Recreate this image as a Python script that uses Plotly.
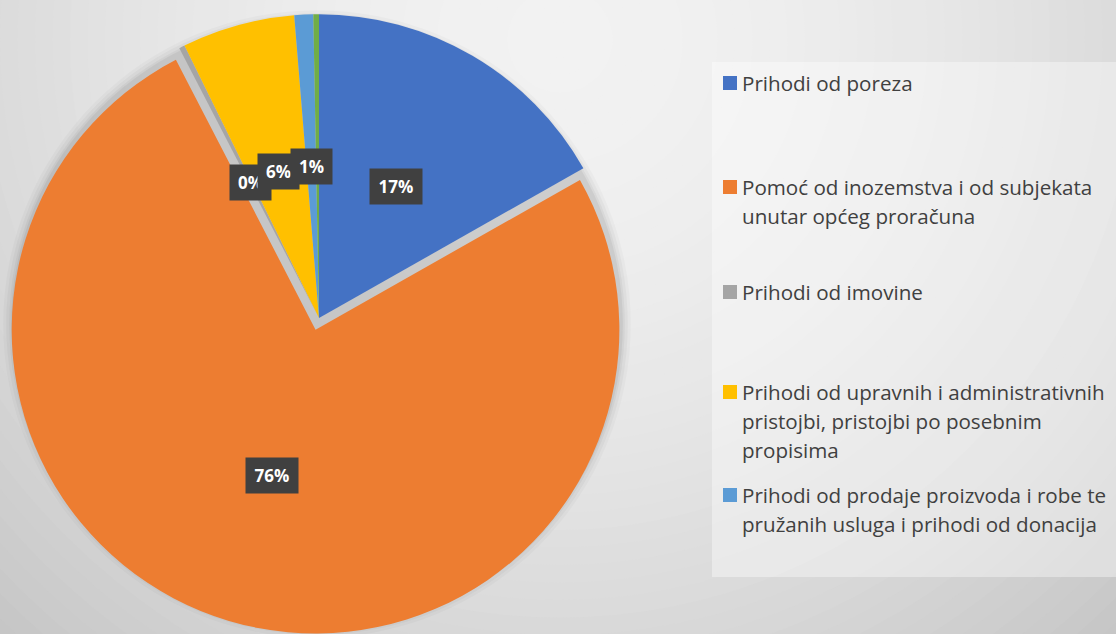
import math
import plotly.graph_objects as go

# ---------------- data ----------------
labels = [
    "Prihodi od poreza",
    "Pomoć od inozemstva i od subjekata unutar općeg proračuna",
    "Prihodi od imovine",
    "Prihodi od upravnih i administrativnih pristojbi, pristojbi po posebnim propisima",
    "Prihodi od prodaje proizvoda i robe te pružanih usluga i prihodi od donacija",
    "Ostali prihodi",
]
values = [16.8, 75.6, 0.3, 6.0, 1.0, 0.3]
colors = ["#4472C4", "#ED7D31", "#A5A5A5", "#FFC000", "#5B9BD5", "#70AD47"]
pulls = [0, 0.04, 0, 0, 0, 0]
show_label = [True, True, True, True, True, False]
legend_lines = [
    ["Prihodi od poreza"],
    ["Pomoć od inozemstva i od subjekata", "unutar općeg proračuna"],
    ["Prihodi od imovine"],
    ["Prihodi od upravnih i administrativnih", "pristojbi, pristojbi po posebnim", "propisima"],
    ["Prihodi od prodaje proizvoda i robe te", "pružanih usluga i prihodi od donacija"],
]

# ---------------- layout ----------------
W, H = 1116, 634
cx, cy = 319, 318              # pie centre in pixels (from top-left)
half = 316                     # half size of pie domain in pixels
maxpull = max(pulls)
R = half / (1 + maxpull)

dom_x = [(cx - half) / W, (cx + half) / W]
dom_y = [max(0, 1 - (cy + half) / H), 1 - (cy - half) / H]

fig = go.Figure()
fig.add_trace(go.Pie(
    labels=labels, values=values, sort=False, direction="clockwise", rotation=0,
    pull=pulls, marker=dict(colors=colors, line=dict(width=0)),
    textinfo="none", hoverinfo="label+percent", showlegend=False,
    domain=dict(x=dom_x, y=dom_y),
))

shapes = []
# radial background gradient
gx, gy = 560, 40
N = 48
rmax = 840
for i in range(N, 0, -1):
    r = rmax * i / N
    t = min(r / 820, 1.0)
    c = int(round(242 - 44 * t ** 1.8))
    shapes.append(dict(type="circle", xref="paper", yref="paper",
                       x0=(gx - r) / W, x1=(gx + r) / W,
                       y0=1 - (gy + r) / H, y1=1 - (gy - r) / H,
                       fillcolor=f"rgb({c},{c},{c})", line=dict(width=0), layer="below"))
# soft pie shadow
for k, a in [(10, 0.025), (7, 0.03), (4, 0.04), (2, 0.05)]:
    rr = R + k
    scx, scy = cx - 2, cy + 6
    shapes.append(dict(type="circle", xref="paper", yref="paper",
                       x0=(scx - rr) / W, x1=(scx + rr) / W,
                       y0=1 - (scy + rr) / H, y1=1 - (scy - rr) / H,
                       fillcolor=f"rgba(0,0,0,{a})", line=dict(width=0), layer="below"))
# legend box
shapes.append(dict(type="rect", xref="paper", yref="paper",
                   x0=712 / W, x1=1, y0=1 - 577 / H, y1=1 - 62 / H,
                   fillcolor="rgba(255,255,255,0.38)", line=dict(width=0), layer="below"))

annotations = []
# data labels
total = sum(values)
cum = 0.0
for v, p, show in zip(values, pulls, show_label):
    mid = (cum + v / 2) / total * 2 * math.pi
    cum += v
    if not show:
        continue
    rad = 0.5 * R + p * R
    lx = cx + rad * math.sin(mid)
    ly = cy - rad * math.cos(mid)
    txt = f"{round(v / total * 100)}%"
    annotations.append(dict(
        x=lx / W, y=1 - ly / H, xref="paper", yref="paper", showarrow=False,
        text=f"<b>{txt}</b>", font=dict(family="Open Sans", size=17, color="white"),
        bgcolor="#404040", borderpad=1, width=17 + 11 * len(txt), height=33,
        xanchor="center", yanchor="middle",
    ))

# custom legend
legend_y = [83, 187, 292, 392, 495]
line_step = 29
for lines, col, y0 in zip(legend_lines, colors, legend_y):
    shapes.append(dict(type="rect", xref="paper", yref="paper",
                       x0=723 / W, x1=737 / W,
                       y0=1 - (y0 + 7) / H, y1=1 - (y0 - 7) / H,
                       fillcolor=col, line=dict(width=0)))
    for j, txt in enumerate(lines):
        yy = y0 + j * line_step
        annotations.append(dict(
            x=740 / W, y=1 - yy / H, xref="paper", yref="paper", showarrow=False,
            text=txt, font=dict(family="Open Sans", size=20.6, color="#404040"),
            xanchor="left", yanchor="middle",
        ))

fig.update_layout(
    width=W, height=H, margin=dict(l=0, r=0, t=0, b=0),
    paper_bgcolor="rgb(198,198,198)", plot_bgcolor="rgba(0,0,0,0)",
    shapes=shapes, annotations=annotations,
)

fig.write_html("out.html")
